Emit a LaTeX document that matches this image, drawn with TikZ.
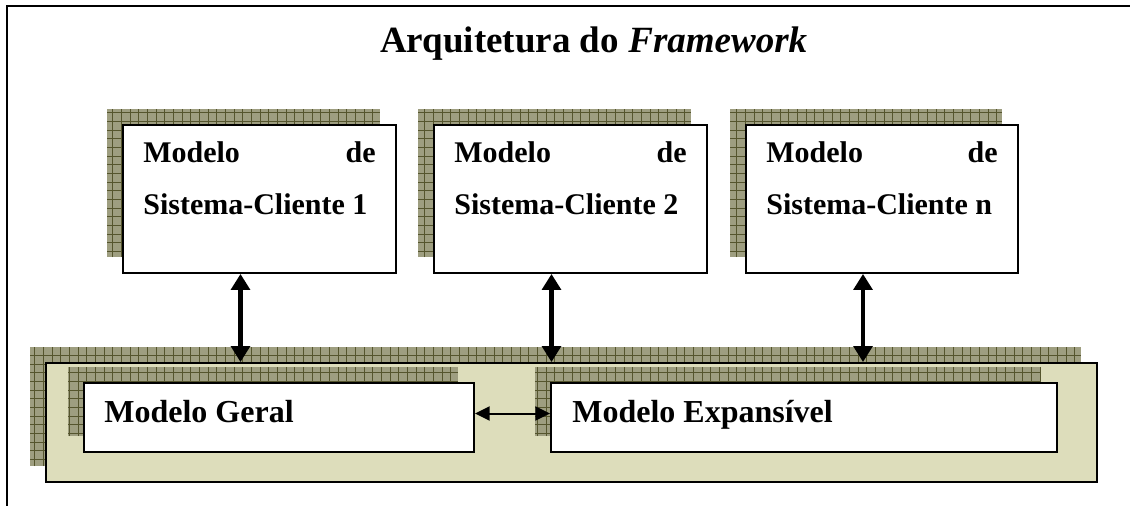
\documentclass[tikz,border=0pt]{standalone}
\usepackage{fontspec}
\setmainfont{Liberation Serif}
\usetikzlibrary{arrows.meta,fit,calc}
\definecolor{shadowfill}{RGB}{158,158,128}
\definecolor{shadowline}{RGB}{85,85,45}
\definecolor{bigfill}{RGB}{221,221,187}
\newcommand\myshadowbox[6]{%
  \begin{scope}
    \clip (#2-16,#3-16) rectangle (#4-16,#5-16);
    \fill[shadowfill] (#2-16,#3-16) rectangle (#4-16,#5-16);
    \draw[shadowline, line width=0.6pt, step=6.5pt] (#2-16,#3-16) grid (#4-16,#5-16);
  \end{scope}
  \path (#2,#3) coordinate (#1a) (#4,#5) coordinate (#1b);
  \node[#6, fit=(#1a)(#1b), inner sep=0pt] (#1) {};
}
\tikzset{
  boxwhite/.style={draw=black, line width=1.4pt, fill=white},
  boxbig/.style={draw=black, line width=1.4pt, fill=bigfill},
  toptext/.style={inner sep=0pt, font=\fontsize{22.5pt}{26pt}\selectfont\bfseries},
  bottext/.style={inner sep=0pt, font=\fontsize{24pt}{28pt}\selectfont\bfseries},
  dblarrow/.style={line width=3.4pt, {Triangle[width=14pt,length=12pt]}-{Triangle[width=14pt,length=12pt]}},
  thinarrow/.style={line width=1.5pt, {Triangle[width=10.5pt,length=11pt]}-{Triangle[width=10.5pt,length=11pt]}}
}
\begin{document}
\begin{tikzpicture}[x=0.75pt,y=-0.75pt]
\useasboundingbox (0,0) rectangle (1130,506);
\fill[white] (0,0) rectangle (1130,506);
% frame
\draw[line width=1.5pt] (6.5,506) -- (6.5,6.5) -- (1130,6.5);
% title
\node[anchor=base west, inner sep=0pt, font=\fontsize{27.75pt}{32pt}\selectfont\bfseries] (title) at (380,53) {Arquitetura do \textit{Framework}};
% bottom container
\myshadowbox{big}{46}{363}{1097}{482}{boxbig}
\myshadowbox{geral}{84}{383}{474}{452}{boxwhite}
\myshadowbox{exp}{551}{383}{1057}{452}{boxwhite}
% top boxes
\myshadowbox{ca}{123}{125}{396}{273}{boxwhite}
\myshadowbox{cb}{434}{125}{707}{273}{boxwhite}
\myshadowbox{cn}{746}{125}{1018}{273}{boxwhite}
% texts top
\foreach \b/\n in {ca/1, cb/2, cn/n}{
  \node[toptext, anchor=base west] (\b l1) at ($(\b.north west)+(21,38)$) {Modelo};
  \node[toptext, anchor=base east] (\b r1) at ($(\b.north east)+(-21,38)$) {de};
  \node[toptext, anchor=base west] (\b l2) at ($(\b.north west)+(21,90)$) {Sistema-Cliente \n};
}
% texts bottom
\node[bottext, anchor=base west] (geralt) at ($(geral.north west)+(21,40)$) {Modelo Geral};
\node[bottext, anchor=base west] (expt) at ($(exp.north west)+(22,40)$) {Modelo Expansível};
% vertical arrows
\coordinate (pa) at ($(ca.south)+(-19,0)$);
\coordinate (pb) at ($(cb.south)+(-19,0)$);
\coordinate (pn) at ($(cn.south)+(-19,0)$);
\draw[dblarrow] (pa) -- (pa |- big.north);
\draw[dblarrow] (pb) -- (pb |- big.north);
\draw[dblarrow] (pn) -- (pn |- big.north);
% horizontal arrow
\coordinate (ph) at ($(geral.east)+(0,-4)$);
\draw[thinarrow] (ph) -- (ph -| exp.west);
\end{tikzpicture}
\end{document}
